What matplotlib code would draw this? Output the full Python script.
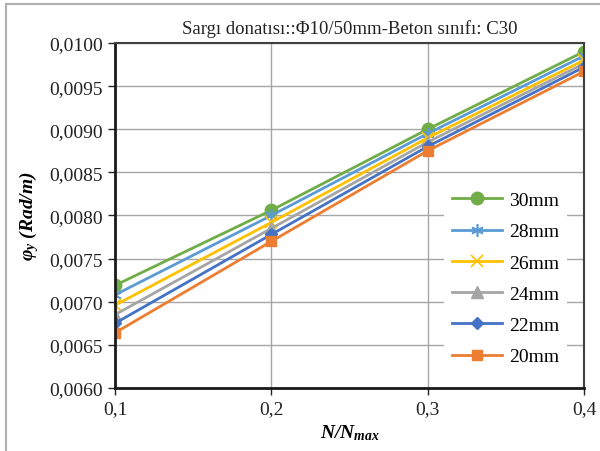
import numpy as np
import matplotlib
matplotlib.use("Agg")
import matplotlib.pyplot as plt
from matplotlib.lines import Line2D

plt.rcParams['font.family'] = ['Liberation Serif', 'DejaVu Serif']
plt.rcParams['mathtext.fontset'] = 'custom'
plt.rcParams['mathtext.rm'] = 'Liberation Serif'
plt.rcParams['mathtext.it'] = 'Liberation Serif:italic'
plt.rcParams['mathtext.bf'] = 'Liberation Serif:bold:italic'

x_vals = [0.1, 0.2, 0.3, 0.4]
labels = ['30mm', '28mm', '26mm', '24mm', '22mm', '20mm']
s30 = [0.00719, 0.00806, 0.00900, 0.00990]
s28 = [0.00708, 0.00800, 0.00895, 0.00985]
s26 = [0.00696, 0.00792, 0.00890, 0.00980]
s24 = [0.00685, 0.00785, 0.00885, 0.00976]
s22 = [0.00675, 0.00778, 0.00880, 0.00972]
s20 = [0.00664, 0.00770, 0.00875, 0.00967]
series = [s30, s28, s26, s24, s22, s20]
colors = ['#70AD47', '#5B9BD5', '#FFC000', '#A5A5A5', '#4472C4', '#ED7D31']
markers = ['o', (6, 2, 0), 'x', '^', 'D', 's']
msizes = [9, 9, 8, 8, 6.5, 7]

fig = plt.figure(figsize=(6, 4.52), dpi=100)
ax = fig.add_axes([0.1917, 0.1394, 0.7816, 0.7633])

for ys, lab, c, m, ms in zip(series, labels, colors, markers, msizes):
    if m in ((6, 2, 0), 'x'):
        ax.plot(x_vals, ys, color=c, lw=2, marker=m, ms=ms, mew=1.2, label=lab)
    else:
        ax.plot(x_vals, ys, color=c, lw=2, marker=m, ms=ms, mec=c, mfc=c, label=lab)

ax.set_xlim(0.1, 0.4)
ax.set_ylim(0.006, 0.010)
ax.set_xticks(x_vals)
ax.set_xticklabels(['0,1', '0,2', '0,3', '0,4'])
yt = np.arange(0.0060, 0.01001, 0.0005)
ax.set_yticks(yt)
ax.set_yticklabels([('%.4f' % v).replace('.', ',') for v in yt])
ax.tick_params(direction='out', length=5, labelsize=14, colors='#222222', width=1)
ax.grid(True, color='#a6a6a6', lw=1)
ax.set_axisbelow(True)
for side in ['left', 'bottom']:
    ax.spines[side].set_linewidth(2)
    ax.spines[side].set_color('#1a1a1a')
for side in ['top', 'right']:
    ax.spines[side].set_linewidth(1.5)
    ax.spines[side].set_color('#404040')

ax.set_title('Sargı donatısı::Φ10/50mm-Beton sınıfı: C30', fontsize=13.5, pad=7, color='#222222')
ax.set_xlabel(r'$\mathbf{N/N_{max}}$', fontsize=14, labelpad=4)
ax.set_ylabel(r'$\mathbf{\varphi_y\ (Rad/m)}$', fontsize=14, labelpad=6)

leg = ax.legend(loc='lower right', bbox_to_anchor=(0.985, 0.015), frameon=True,
                fontsize=14, handlelength=2.6, labelspacing=0.7,
                borderpad=0.4, handletextpad=0.35)
leg.get_frame().set_edgecolor('none')
leg.get_frame().set_facecolor('white')
leg.get_frame().set_alpha(1)

# outer border of the original frame
fig.add_artist(Line2D([0.01, 0.01], [0, 0.99], color='#b0b0b0', lw=1.5))
fig.add_artist(Line2D([0.01, 1.0], [0.99, 0.99], color='#b0b0b0', lw=1.5))

fig.savefig('out.png', dpi=100)
